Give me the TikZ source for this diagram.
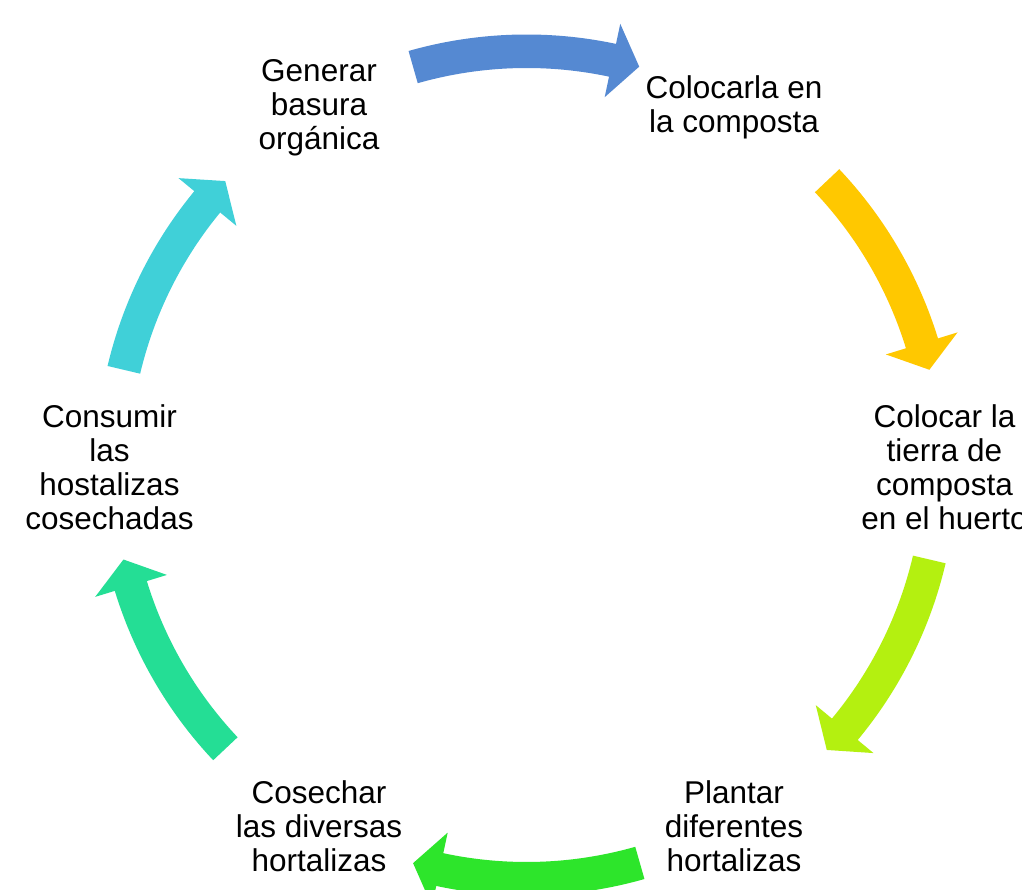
\documentclass[tikz,border=0pt]{standalone}
\usepackage{fontspec}
\setmainfont{Liberation Sans}
\definecolor{arrBlue}{RGB}{85,137,210}
\definecolor{arrYellow}{RGB}{255,200,0}
\definecolor{arrLime}{RGB}{180,240,16}
\definecolor{arrGreen}{RGB}{45,229,43}
\definecolor{arrTeal}{RGB}{36,222,149}
\definecolor{arrCyan}{RGB}{64,208,216}
\begin{document}
\begin{tikzpicture}[x=1pt,y=1pt,
  lbl/.style={align=center, inner sep=0pt, text=black, yshift=-2pt, font=\fontsize{31.5}{34}\selectfont}]
\useasboundingbox (-526.5,-425) rectangle (495.5,465);
\fill[white] (-526.5,-425) rectangle (495.5,465);
\node[lbl] (n1) at (120:415) {Generar\\basura\\orgánica};
\node[lbl] (n2) at (60:415) {Colocarla en\\la composta};
\node[lbl] (n3) at (0:418) {Colocar la\\tierra de\\composta\\en el huerto};
\node[lbl] (n4) at (-60:415) {Plantar\\diferentes\\hortalizas};
\node[lbl] (n5) at (-120:415) {Cosechar\\las diversas\\hortalizas};
\node[lbl] (n6) at (180:417) {Consumir\\las\\hostalizas\\cosechadas};
\foreach \c/\a/\b in {arrBlue/105.9/74.2, arrYellow/43.4/13.3, arrLime/-13.2/-43.5,
                      arrGreen/-74.1/-105.9, arrTeal/-136.7/-166.8, arrCyan/166.7/136.7} {
  \pgfmathsetmacro\h{\b+3.8}
  \fill[\c] (\a:430.5) arc[start angle=\a, end angle=\h, radius=430.5]
    -- (\h:451) -- (\b:414) -- (\h:376) -- (\h:397)
    arc[start angle=\h, end angle=\a, radius=397] -- cycle;
}
\end{tikzpicture}
\end{document}
